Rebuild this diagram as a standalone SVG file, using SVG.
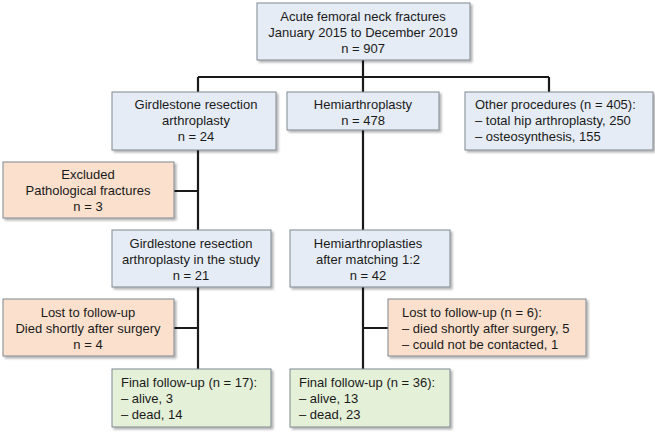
<svg xmlns="http://www.w3.org/2000/svg" width="655" height="435" viewBox="0 0 655 435">
<style>
text{font-family:"Liberation Sans",Arial,sans-serif;font-size:13px;fill:#1a1a1a}
.c{text-anchor:middle}
.b{fill:#e6ecf5}.o{fill:#fbe0cd}.g{fill:#e4f0d8}
rect{stroke:#7f8790;stroke-width:1;filter:url(#sh)}
.ln{stroke:#1a1a1a;stroke-width:2.2;fill:none}
</style>
<defs><filter id="sh" x="-10%" y="-10%" width="130%" height="140%"><feDropShadow dx="2" dy="2" stdDeviation="1.2" flood-color="#000" flood-opacity="0.3"/></filter></defs>
<rect width="655" height="435" fill="#fff" style="stroke:none;filter:none"/>
<g id="connectors">
<path class="ln" d="M363 60V77M198 77H549M198 77V92M363 77V92M549 77V92M198 150V230M198 191H174M363 130V230M198 287V369M198 328H174M363 287V369M363 328H388"/>
</g>
<g id="n1"><rect class="b" x="257" y="3" width="213" height="57"/>
<text class="c" x="363" y="21">Acute femoral neck fractures</text><text class="c" x="363" y="37">January 2015 to December 2019</text><text class="c" x="363" y="53">n = 907</text></g>
<g id="n2"><rect class="b" x="112" y="92" width="164" height="58"/>
<text class="c" x="196" y="109">Girdlestone resection</text><text class="c" x="196" y="125">arthroplasty</text><text class="c" x="196" y="141">n = 24</text></g>
<g id="n3"><rect class="b" x="287" y="92" width="152" height="38"/>
<text class="c" x="363" y="109">Hemiarthroplasty</text><text class="c" x="363" y="125">n = 478</text></g>
<g id="n4"><rect class="b" x="465" y="92" width="188" height="58"/>
<text x="475" y="109">Other procedures (n = 405):</text><text x="475" y="125">– total hip arthroplasty, 250</text><text x="475" y="141">– osteosynthesis, 155</text></g>
<g id="n5"><rect class="o" x="3" y="162" width="171" height="56"/>
<text class="c" x="88" y="179">Excluded</text><text class="c" x="88" y="195">Pathological fractures</text><text class="c" x="88" y="211">n = 3</text></g>
<g id="n6"><rect class="b" x="112" y="230" width="159" height="57"/>
<text class="c" x="191" y="248">Girdlestone resection</text><text class="c" x="191" y="264">arthroplasty in the study</text><text class="c" x="191" y="280">n = 21</text></g>
<g id="n7"><rect class="b" x="290" y="230" width="160" height="57"/>
<text class="c" x="368" y="248">Hemiarthroplasties</text><text class="c" x="368" y="264">after matching 1:2</text><text class="c" x="368" y="280">n = 42</text></g>
<g id="n8"><rect class="o" x="3" y="299" width="171" height="57"/>
<text class="c" x="88" y="317">Lost to follow-up</text><text class="c" x="88" y="333">Died shortly after surgery</text><text class="c" x="88" y="349">n = 4</text></g>
<g id="n9"><rect class="o" x="388" y="299" width="198" height="57"/>
<text x="402" y="317">Lost to follow-up (n = 6):</text><text x="402" y="333">– died shortly after surgery, 5</text><text x="402" y="349">– could not be contacted, 1</text></g>
<g id="n10"><rect class="g" x="112" y="369" width="159" height="58"/>
<text x="121" y="387">Final follow-up (n = 17):</text><text x="121" y="403">– alive, 3</text><text x="121" y="419">– dead, 14</text></g>
<g id="n11"><rect class="g" x="290" y="369" width="160" height="58"/>
<text x="299" y="387">Final follow-up (n = 36):</text><text x="299" y="403">– alive, 13</text><text x="299" y="419">– dead, 23</text></g>
</svg>
